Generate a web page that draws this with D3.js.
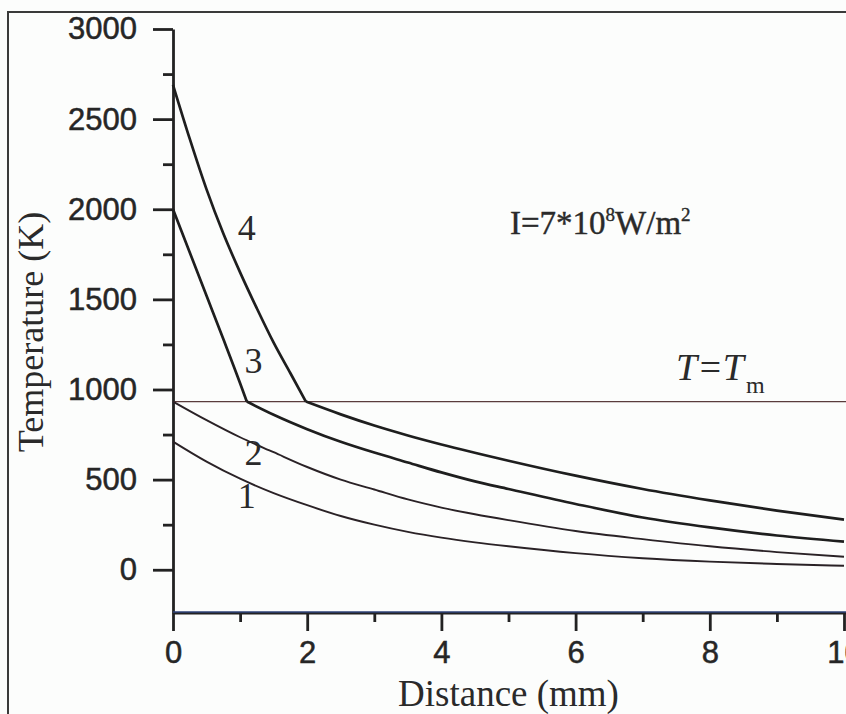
<!DOCTYPE html>
<html>
<head>
<meta charset="utf-8">
<script src="https://cdn.jsdelivr.net/npm/d3@7"></script>
<style>
  body { margin: 0; background: #fcfdfc; }
  svg { display: block; }
</style>
</head>
<body>
<script>
/* ------------------------------- chart data ------------------------------- */
// distance (mm) and temperature (K)
const dist1 = [0, 0.5, 1, 1.5, 2, 2.5, 3, 3.5, 4, 4.5, 5, 6, 7, 8, 9, 10];
const temp1 = [711, 600, 505, 425, 358, 298, 250, 210, 178, 152, 130, 92, 64, 45, 32, 22];

const dist2 = [0, 0.5, 1, 1.5, 2, 2.5, 3, 3.5, 4, 4.5, 5, 6, 7, 8, 9, 10];
const temp2 = [933, 830, 735, 652, 570, 500, 445, 390, 345, 308, 275, 215, 170, 130, 98, 72];

// curves 3 and 4 have a kink where they reach the melting point
const dist3Liquid = [0, 0.25, 0.5, 0.75, 1, 1.1];
const temp3Liquid = [2000, 1760, 1520, 1280, 1035, 933];
const dist3Solid = [1.1, 1.5, 2, 2.5, 3, 3.5, 4, 4.5, 5, 6, 7, 8, 9, 10];
const temp3Solid = [933, 860, 780, 710, 650, 595, 540, 490, 448, 365, 290, 235, 190, 156];

const dist4Liquid = [0, 0.25, 0.5, 0.75, 1, 1.25, 1.5, 1.75, 1.98];
const temp4Liquid = [2690, 2390, 2110, 1865, 1650, 1450, 1260, 1090, 933];
const dist4Solid = [1.98, 2.5, 3, 3.5, 4, 5, 6, 7, 8, 9, 10];
const temp4Solid = [933, 862, 800, 745, 695, 605, 522, 448, 385, 328, 278];

const meltTemp = 933;

const xMajor = [0, 2, 4, 6, 8, 10];
const xMinor = [1, 3, 5, 7, 9];
const yMajor = [0, 500, 1000, 1500, 2000, 2500, 3000];
const yMinor = [250, 750, 1250, 1750, 2250, 2750];

// curve label, position (mm, K)
const curveLabels = ["1", "2", "3", "4"];
const labelX = [1.1, 1.2, 1.2, 1.1];
const labelT = [345, 580, 1090, 1830];

/* ------------------------------ svg and scales ----------------------------- */
const width = 846, height = 714;

const svg = d3.select("body").append("svg")
    .attr("width", width)
    .attr("height", height);

const x = d3.scaleLinear().domain([0, 10]).range([173, 844]);
const y = d3.scaleLinear().domain([-240, 3000]).range([613, 29]);

// outer frame of the scanned figure
svg.append("rect")
    .attr("x", 8).attr("y", 12)
    .attr("width", 900).attr("height", 760)
    .attr("fill", "none")
    .attr("stroke", "#3a3a3a")
    .attr("stroke-width", 2);

/* ---------------------------------- axes ---------------------------------- */
const tickFont = "'Liberation Sans', Arial, sans-serif";

svg.append("g")
    .attr("transform", "translate(" + x(0) + ",0)")
    .call(d3.axisLeft(y).tickValues(yMajor).tickSize(20).tickSizeOuter(0)
        .tickPadding(16).tickFormat(d3.format("d")));
svg.append("g")
    .attr("transform", "translate(" + x(0) + ",0)")
    .call(d3.axisLeft(y).tickValues(yMinor).tickSize(10).tickSizeOuter(0).tickFormat(""))
    .select(".domain").remove();

const xAxis = svg.append("g")
    .attr("transform", "translate(0," + y(-240) + ")")
    .call(d3.axisBottom(x).tickValues(xMajor).tickSize(18).tickSizeOuter(0)
        .tickPadding(10).tickFormat(d3.format("d")));
svg.append("g")
    .attr("transform", "translate(0," + y(-240) + ")")
    .call(d3.axisBottom(x).tickValues(xMinor).tickSize(9).tickSizeOuter(0).tickFormat(""))
    .select(".domain").remove();

svg.selectAll(".tick line").attr("stroke", "#222").attr("stroke-width", 2.8);
svg.selectAll(".domain").attr("stroke", "#222").attr("stroke-width", 2.8);
svg.selectAll(".tick text")
    .attr("fill", "#262626")
    .attr("stroke", "#262626")
    .attr("stroke-width", 0.5)
    .style("font-family", tickFont)
    .style("font-size", "31px");

// the x axis line runs on to the edge of the picture
xAxis.select(".domain").attr("d", "M" + x(0) + ",0H" + width);
svg.append("line")
    .attr("x1", x(0)).attr("x2", width)
    .attr("y1", y(-240) - 1).attr("y2", y(-240) - 1)
    .attr("stroke", "#3350a0")
    .attr("stroke-width", 1);

/* --------------------------------- curves --------------------------------- */
const line = d3.line()
    .x(d => x(d[0]))
    .y(d => y(d[1]))
    .curve(d3.curveMonotoneX);

const zipPts = (xs, ts) => xs.map((v, i) => [v, ts[i]]);

// melting point line
svg.append("line")
    .attr("x1", x(0)).attr("x2", width)
    .attr("y1", y(meltTemp)).attr("y2", y(meltTemp))
    .attr("stroke", "#5a3c3c")
    .attr("stroke-width", 1.3);

const thin = [zipPts(dist1, temp1), zipPts(dist2, temp2)];
const thick = [
    zipPts(dist3Liquid, temp3Liquid), zipPts(dist3Solid, temp3Solid),
    zipPts(dist4Liquid, temp4Liquid), zipPts(dist4Solid, temp4Solid)
];

svg.selectAll(".thin").data(thin).enter().append("path")
    .attr("class", "thin")
    .attr("d", line)
    .attr("fill", "none")
    .attr("stroke", "#2a2226")
    .attr("stroke-width", 1.9);

svg.selectAll(".thick").data(thick).enter().append("path")
    .attr("class", "thick")
    .attr("d", line)
    .attr("fill", "none")
    .attr("stroke", "#1e1e1e")
    .attr("stroke-width", 2.7)
    .attr("stroke-linejoin", "round");

/* ---------------------------------- texts --------------------------------- */
const serif = "'Liberation Serif', 'Times New Roman', serif";

svg.selectAll(".clabel").data(curveLabels).enter().append("text")
    .attr("class", "clabel")
    .attr("x", (d, i) => x(labelX[i]))
    .attr("y", (d, i) => y(labelT[i]))
    .attr("text-anchor", "middle")
    .attr("fill", "#2a2a2a")
    .style("font-family", serif)
    .style("font-size", "36px")
    .text(d => d);

const intensity = svg.append("text")
    .attr("x", 510).attr("y", 234)
    .attr("fill", "#2a2a2a")
    .attr("stroke", "#2a2a2a")
    .attr("stroke-width", 0.4)
    .style("font-family", serif)
    .style("font-size", "33px");
intensity.append("tspan").text("I=7*10");
intensity.append("tspan").attr("dy", -13).style("font-size", "19px").text("8");
intensity.append("tspan").attr("dy", 13).text("W/m");
intensity.append("tspan").attr("dy", -13).style("font-size", "19px").text("2");

const tm = svg.append("text")
    .attr("x", 676).attr("y", 380)
    .attr("fill", "#2a2a2a")
    .style("font-family", serif)
    .style("font-size", "38px");
tm.append("tspan").style("font-style", "italic").text("T");
tm.append("tspan").style("font-style", "italic").text("=");
tm.append("tspan").style("font-style", "italic").text("T");
tm.append("tspan").attr("dy", 13).attr("dx", 2).style("font-size", "24px").text("m");

svg.append("text")
    .attr("x", (x(0) + x(10)) / 2).attr("y", 706)
    .attr("text-anchor", "middle")
    .attr("fill", "#2a2a2a")
    .style("font-family", serif)
    .style("font-size", "37px")
    .text("Distance (mm)");

svg.append("text")
    .attr("transform", "translate(43,332) rotate(-90)")
    .attr("text-anchor", "middle")
    .attr("fill", "#2a2a2a")
    .style("font-family", serif)
    .style("font-size", "36px")
    .text("Temperature (K)");
</script>
</body>
</html>
